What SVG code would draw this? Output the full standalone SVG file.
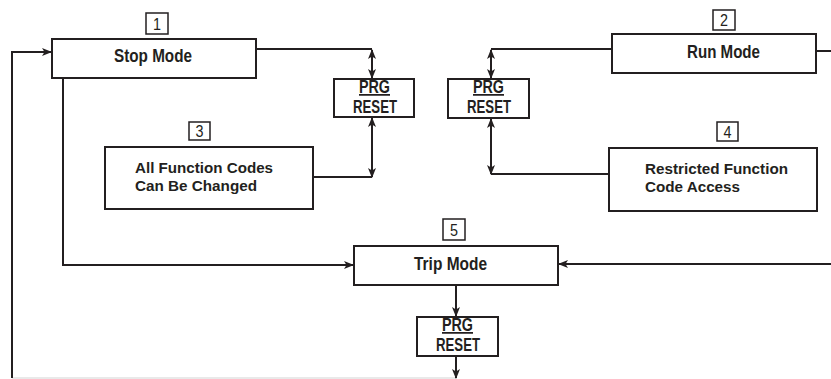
<svg xmlns="http://www.w3.org/2000/svg" width="831" height="379" viewBox="0 0 831 379">
<style>
.box{fill:#fff;stroke:#231f20;stroke-width:2}
.num{fill:#fff;stroke:#231f20;stroke-width:1.5}
.t{font-family:"Liberation Sans Narrow","Arial Narrow","Liberation Sans",sans-serif;font-weight:bold;font-size:17.5px;fill:#231f20}
.s{font-size:15.5px}
.n{font-family:"Liberation Sans Narrow","Arial Narrow","Liberation Sans",sans-serif;font-size:17px;fill:#231f20;text-anchor:middle}
.ln{fill:none;stroke:#231f20;stroke-width:2}
.ar{marker-end:url(#ah)}
.dbl{marker-start:url(#ah);marker-end:url(#ah)}
</style>
<defs>
<marker id="ah" markerUnits="userSpaceOnUse" markerWidth="10" markerHeight="8" refX="9" refY="4" orient="auto-start-reverse" viewBox="0 0 10 8">
<path d="M0,0 L10,4 L0,8 L2.5,4 Z" fill="#231f20"/>
</marker>
</defs>
<rect width="831" height="379" fill="#fff"/>
<g id="connectors">
<line x1="12" y1="378" x2="456" y2="378" stroke="#e2e2e2" stroke-width="1.5"/>
<polyline class="ln" points="256,49 372,49"/>
<line class="ln dbl" x1="372" y1="50" x2="372" y2="78"/>
<polyline class="ln" points="313,177 372,177"/>
<line class="ln dbl" x1="372" y1="118" x2="372" y2="177"/>
<polyline class="ln" points="612,49 491,49"/>
<line class="ln dbl" x1="491" y1="50" x2="491" y2="78"/>
<polyline class="ln" points="609,174 491,174"/>
<line class="ln dbl" x1="491" y1="119" x2="491" y2="174"/>
<polyline class="ln ar" points="63,78 63,265 353,265"/>
<line class="ln ar" x1="831" y1="264" x2="559" y2="264"/>
<line class="ln" x1="816" y1="51" x2="831" y2="51"/>
<line class="ln ar" x1="456" y1="285" x2="456" y2="316"/>
<line class="ln ar" x1="456" y1="356" x2="456" y2="378"/>
<polyline class="ln ar" points="12,378 12,52 51,52"/>
</g>
<g id="n1">
<rect class="num" x="146" y="13" width="22" height="21"/>
<text class="n" x="157" y="30" textLength="8" lengthAdjust="spacingAndGlyphs">1</text>
</g>
<g id="stop">
<rect class="box" x="52" y="39" width="204" height="39"/>
<text class="t" x="114" y="62" textLength="78" lengthAdjust="spacingAndGlyphs">Stop Mode</text>
</g>
<g id="n2">
<rect class="num" x="713" y="10" width="22" height="20"/>
<text class="n" x="724" y="26" textLength="8" lengthAdjust="spacingAndGlyphs">2</text>
</g>
<g id="run">
<rect class="box" x="612" y="34" width="204" height="39"/>
<text class="t" x="687" y="58" textLength="73" lengthAdjust="spacingAndGlyphs">Run Mode</text>
</g>
<g id="prg1">
<rect class="box" x="334" y="79" width="80" height="38"/>
<text class="t" x="359" y="93" textLength="31" lengthAdjust="spacingAndGlyphs" text-decoration="underline">PRG</text>
<text class="t" x="353" y="113" textLength="44" lengthAdjust="spacingAndGlyphs">RESET</text>
</g>
<g id="prg2">
<rect class="box" x="448" y="79" width="81" height="39"/>
<text class="t" x="473" y="93" textLength="31" lengthAdjust="spacingAndGlyphs" text-decoration="underline">PRG</text>
<text class="t" x="467" y="113" textLength="44" lengthAdjust="spacingAndGlyphs">RESET</text>
</g>
<g id="n3">
<rect class="num" x="189" y="122" width="21" height="18"/>
<text class="n" x="199.5" y="137" textLength="8" lengthAdjust="spacingAndGlyphs">3</text>
</g>
<g id="allfunc">
<rect class="box" x="105" y="147" width="208" height="62"/>
<text class="t s" x="135" y="173" textLength="138" lengthAdjust="spacingAndGlyphs">All Function Codes</text>
<text class="t s" x="135" y="191" textLength="122" lengthAdjust="spacingAndGlyphs">Can Be Changed</text>
</g>
<g id="n4">
<rect class="num" x="717" y="122" width="21" height="19"/>
<text class="n" x="727.5" y="138" textLength="8" lengthAdjust="spacingAndGlyphs">4</text>
</g>
<g id="restricted">
<rect class="box" x="609" y="148" width="208" height="63"/>
<text class="t s" x="645" y="174" textLength="143" lengthAdjust="spacingAndGlyphs">Restricted Function</text>
<text class="t s" x="645" y="192" textLength="95" lengthAdjust="spacingAndGlyphs">Code Access</text>
</g>
<g id="n5">
<rect class="num" x="443" y="219" width="22" height="21"/>
<text class="n" x="454" y="236" textLength="8" lengthAdjust="spacingAndGlyphs">5</text>
</g>
<g id="trip">
<rect class="box" x="354" y="246" width="204" height="39"/>
<text class="t" x="414" y="270" textLength="73" lengthAdjust="spacingAndGlyphs">Trip Mode</text>
</g>
<g id="prg3">
<rect class="box" x="417" y="317" width="81" height="39"/>
<text class="t" x="442" y="331" textLength="31" lengthAdjust="spacingAndGlyphs" text-decoration="underline">PRG</text>
<text class="t" x="436" y="351" textLength="44" lengthAdjust="spacingAndGlyphs">RESET</text>
</g>
</svg>
